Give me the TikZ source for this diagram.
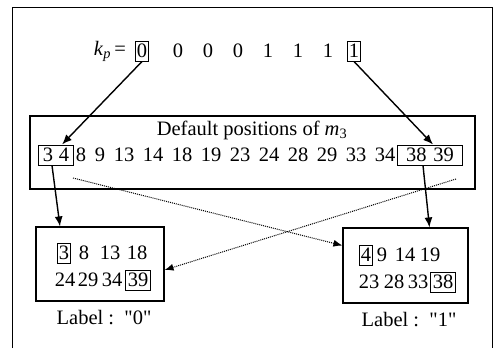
\documentclass[tikz,border=0pt]{standalone}
\usepackage{fontspec}
\setmainfont{Liberation Serif}
\usetikzlibrary{arrows.meta}
\newcommand\digfont{\fontsize{20.5}{24}\selectfont}

\begin{document}
\begin{tikzpicture}[x=1pt,y=-1pt,
  every node/.style={font=\digfont, inner sep=0pt},
  boxed/.style={draw, line width=1pt, inner xsep=1.8pt, minimum height=20pt},
  panel/.style={draw, line width=1.1pt},
  arr/.style={-{Latex[length=10pt,width=8pt]}, line width=1.4pt},
  dotarr/.style={-{Latex[length=9pt,width=7pt]}, densely dotted, line width=1pt}]
\useasboundingbox (0,0) rectangle (494,348);
% outer frame, open at the bottom
\draw[line width=0.7pt] (12,348) -- (12,7) -- (492,7) -- (492,348);

% key bits
\node (kp) at (110,51) {\textit{k}\textsubscript{\textit{p}}\,=};
\node[boxed] (b1) at (142,51) {0};
\foreach \x/\b [count=\i from 2] in {178/0,208/0,238/0,268/1,298/1,328/1}
  \node (b\i) at (\x,51) {\b};
\node[boxed] (b8) at (354,51) {1};

% default positions
\node[panel, minimum width=445pt, minimum height=73pt] (mid) at (252.5,152.5) {};
\node (title) at (252,130) {Default positions of \textit{m}\textsubscript{3}};
\node[boxed, minimum width=35pt] (p34) at (56,155) {3\hspace{6pt}4};
\foreach \x/\n in {81/8,100/9,124/13,153/14,182/18,211/19,240/23,269/24,298/28,327/29,356/33,385/34}
  \node (m\n) at (\x,155) {\n};
\node[boxed, minimum width=65pt] (p3839) at (430,155) {38\hspace{7pt}39};

% the two labels
\node[panel, minimum width=128pt, minimum height=74pt] (lbox) at (100,264) {};
\node[boxed] (l3) at (64,253) {3};
\foreach \x/\n in {84/8,110/13,137/18}
  \node (l\n) at (\x,253) {\n};
\foreach \x/\n in {65/24,88/29,112/34}
  \node (l\n) at (\x,280) {\n};
\node[boxed] (l39) at (138,280) {39};
\node (lab0) at (104,318) {Label :\ \ \textquotedbl 0\textquotedbl};

\node[panel, minimum width=125pt, minimum height=75pt] (rbox) at (405.5,265.5) {};
\node[boxed] (r4) at (366,255) {4};
\foreach \x/\n in {382/9,405/14,430/19}
  \node (r\n) at (\x,255) {\n};
\foreach \x/\n in {369/23,394/28,418/33}
  \node (r\n) at (\x,282) {\n};
\node[boxed] (r38) at (443,282) {38};
\node (lab1) at (409,320) {Label :\ \ \textquotedbl 1\textquotedbl};

% connectors
\draw[arr] (b1.south) -- ([xshift=6pt]p34.north);
\draw[arr] (b8.south) -- ([xshift=3pt]p3839.north);
\draw[arr] ([xshift=-4pt]p34.south) -- ([xshift=-40pt]lbox.north);
\draw[arr] ([xshift=-7pt]p3839.south) -- ([xshift=24pt]rbox.north);
\coordinate (d0) at (73,178);
\coordinate (d1) at (456,179);
\draw[dotarr] (d0) -- ([yshift=20pt]rbox.west);
\draw[dotarr] (d1) -- ([yshift=-6pt]lbox.east);
\end{tikzpicture}
\end{document}
